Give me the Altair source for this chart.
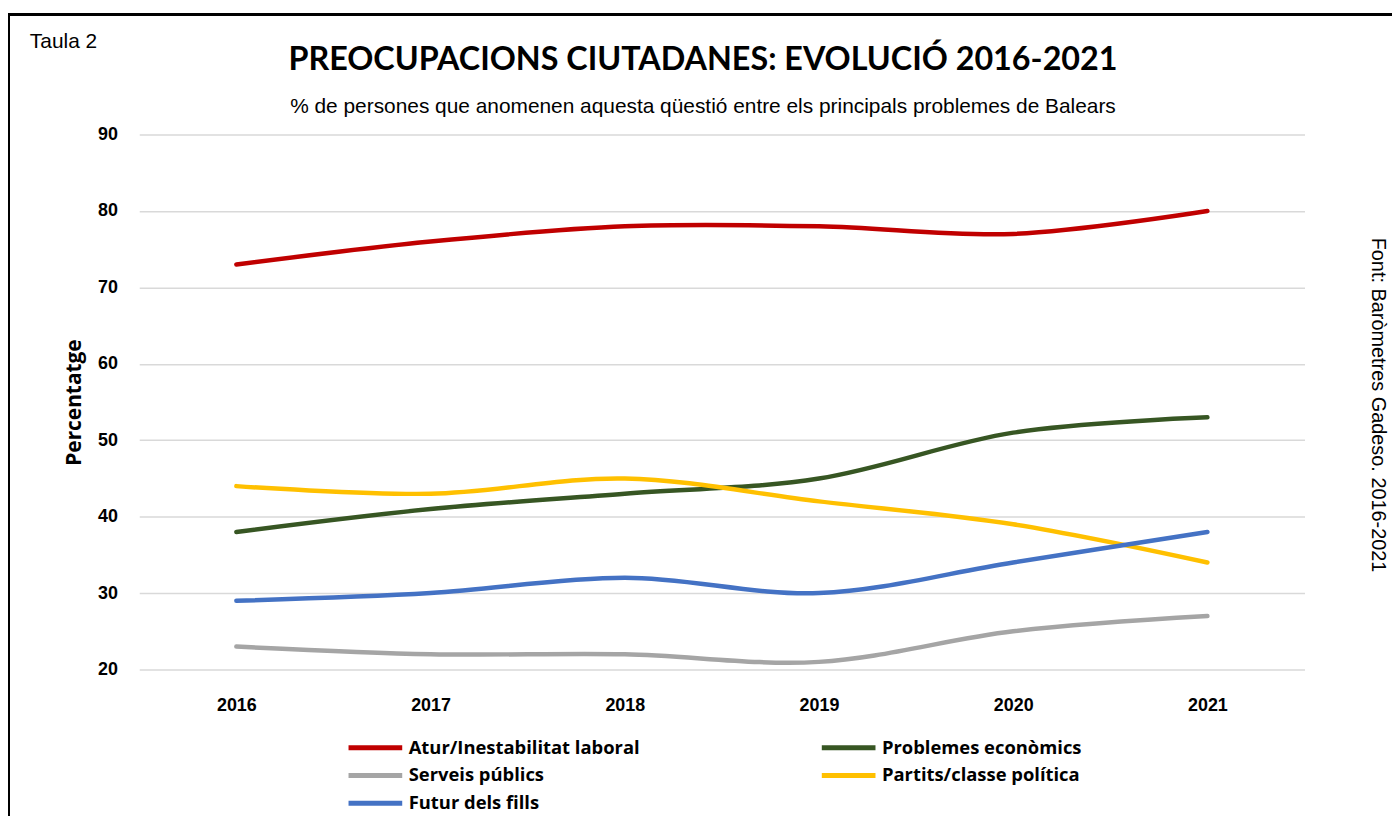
import altair as alt
import pandas as pd

years = ["2016", "2017", "2018", "2019", "2020", "2021"]
series_names = [
    "Atur/Inestabilitat laboral",
    "Problemes econòmics",
    "Serveis públics",
    "Partits/classe política",
    "Futur dels fills",
]
atur = [73, 76, 78, 78, 77, 80]
problemes = [38, 41, 43, 45, 51, 53]
serveis = [23, 22, 22, 21, 25, 27]
partits = [44, 43, 45, 42, 39, 34]
futur = [29, 30, 32, 30, 34, 38]
colors = ["#C00000", "#375623", "#A5A5A5", "#FFC000", "#4472C4"]

title_text = "PREOCUPACIONS CIUTADANES: EVOLUCIÓ 2016-2021"
subtitle_text = "% de persones que anomenen aquesta qüestió entre els principals problemes de Balears"
taula_text = "Taula 2"
source_text = "Font: Baròmetres Gadeso. 2016-2021"

rows = []
for name, vals in zip(series_names, [atur, problemes, serveis, partits, futur]):
    for y, v in zip(years, vals):
        rows.append({"Any": y, "Serie": name, "Valor": v})
df = pd.DataFrame(rows)

W, H = 1172, 538

lines = alt.Chart(df).mark_line(interpolate="cardinal", strokeWidth=4.5, strokeCap="round").encode(
    x=alt.X("Any:O", sort=years, scale=alt.Scale(type="point", padding=0.5),
            axis=alt.Axis(title=None, labelAngle=0, labelFont="Liberation Sans", labelFontWeight="bold",
                          labelFontSize=18, labelColor="black", labelPadding=27, domain=False, ticks=False,
                          grid=False)),
    y=alt.Y("Valor:Q", scale=alt.Scale(domain=[20, 90], nice=False, zero=False),
            axis=alt.Axis(title="Percentatge", values=[20, 30, 40, 50, 60, 70, 80, 90],
                          labelFont="Liberation Sans", labelFontWeight="bold", labelFontSize=18,
                          labelColor="black", labelPadding=22, domain=False, ticks=False,
                          gridColor="#D9D9D9", gridWidth=1.5,
                          titleFont="Open Sans", titleFontWeight="bold", titleFontSize=21,
                          titleColor="black", titlePadding=13)),
    color=alt.Color("Serie:N", sort=series_names,
                    scale=alt.Scale(domain=series_names, range=colors),
                    legend=alt.Legend(title=None, orient="none", legendX=244, legendY=605,
                                      direction="horizontal", columns=2, columnPadding=172, rowPadding=6,
                                      symbolType="M-5,0L1,0", symbolSize=324, symbolStrokeWidth=5,
                                      labelFont="Open Sans", labelFontWeight="bold", labelFontSize=18.5,
                                      labelColor="black", labelOffset=4, labelLimit=400)),
    order=alt.Order("Serie:N"),
)

frame = alt.Chart(df).mark_rect(fill="transparent", stroke="black", strokeWidth=2, clip=False).encode(
    x=alt.value(-131), x2=alt.value(2000), y=alt.value(-121), y2=alt.value(2000)
)

def label(text, **kw):
    return alt.Chart(pd.DataFrame({"t": [text]})).mark_text(color="black", **kw)

taula = label(taula_text, font="Liberation Sans", fontSize=21, align="left", baseline="middle").encode(
    text="t:N", x=alt.value(-110), y=alt.value(-93))

title = label(title_text, font="Lato", fontSize=32.5, fontWeight="bold", align="center", baseline="middle").encode(
    text="t:N", x=alt.value(567), y=alt.value(-75))

subtitle = label(subtitle_text, font="Liberation Sans", fontSize=21, align="center", baseline="middle").encode(
    text="t:N", x=alt.value(567), y=alt.value(-28))

font_txt = label(source_text, font="Liberation Sans", fontSize=20, align="center", baseline="middle", angle=90).encode(
    text="t:N", x=alt.value(1246), y=alt.value(272))

chart = alt.layer(frame, lines, taula, title, subtitle, font_txt).properties(
    width=W, height=H,
    padding={"left": 132, "top": 125, "right": 88, "bottom": 145},
    autosize=alt.AutoSizeParams(type="none"),
    background="white",
).configure_view(stroke=None)

chart.save("out.html", embed_options={"renderer": "svg", "actions": False})
